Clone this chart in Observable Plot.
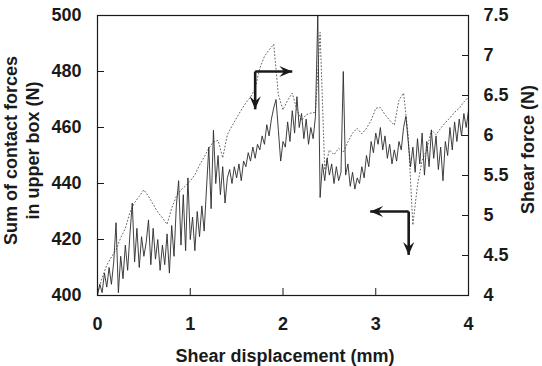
<!DOCTYPE html>
<html><head><meta charset="utf-8">
<script src="https://cdn.jsdelivr.net/npm/d3@7"></script>
<script src="https://cdn.jsdelivr.net/npm/@observablehq/plot@0.6"></script>
<style>body{margin:0;background:#fff}</style>
</head><body><div id="chart"></div>
<script>
// Sum of contact forces in upper box (N), sampled every 0.025 mm (left axis)
const contactStep = 0.025;
const contactForce = [
  400,404,401,408,403,410,404,412,426,401,
  414,406,418,409,422,433,412,424,410,421,
  414,419,427,411,424,413,420,409,418,411,
  422,408,425,414,432,441,418,436,416,442,
  420,428,416,430,421,432,423,438,453,431,
  459,440,450,436,446,433,442,445,440,446,
  442,447,441,448,446,451,448,453,449,454,
  452,457,454,461,457,463,467,470,459,448,
  455,453,462,455,466,458,471,460,465,456,
  463,454,460,456,464,500,435,447,441,449,
  443,447,440,446,441,444,480,443,447,439,
  444,438,442,440,446,442,450,446,455,451,
  458,454,460,452,457,449,454,447,452,448,
  455,452,460,464,455,446,453,444,456,447,
  458,443,455,446,459,449,457,445,453,441,
  455,450,460,452,462,455,463,457,465,460,466
];
// Shear force (N), sampled every 0.05 mm (right axis)
const shearStep = 0.05;
const shearForce = [
  4.03,4.22,4.38,4.48,4.57,4.72,4.84,5.04,5.16,5.24,
  5.32,5.24,5.14,5.04,4.97,4.89,5.09,5.24,5.32,5.37,
  5.43,5.51,5.63,5.73,5.84,5.92,5.94,5.72,6.01,6.12,
  6.22,6.32,6.41,6.48,6.59,6.84,6.99,7.07,7.14,6.51,
  6.32,6.44,6.53,6.32,6.19,6.26,6.28,6.29,7.29,5.57,
  5.82,5.76,5.84,5.79,5.92,6.03,6.09,6.02,6.09,6.19,
  6.34,6.35,6.26,6.19,6.13,6.44,6.53,6.00,4.88,5.38,
  5.69,5.82,6.07,6.01,6.09,6.16,6.22,6.29,6.34,6.42,6.48
];
const xTicks = [0, 1, 2, 3, 4];
const leftTicks = [400, 420, 440, 460, 480, 500];
const rightTicks = [4, 4.5, 5, 5.5, 6, 6.5, 7, 7.5];
const leftDomain = [400, 500];
const rightDomain = [4, 7.5];
const xTitle = "Shear displacement (mm)";
const leftTitle = "Sum of contact forces\nin upper box (N)";
const rightTitle = "Shear force (N)";
// annotation arrows: corner point, and two tips (x in mm, y in left-axis units)
const arrowShafts = [
  {x1: 1.70, y1: 480, x2: 1.70, y2: 466.5},
  {x1: 1.70, y1: 480, x2: 2.10, y2: 480},
  {x1: 3.355, y1: 430, x2: 2.94, y2: 430},
  {x1: 3.355, y1: 430, x2: 3.355, y2: 414.5}
];
const arrowHeads = [
  {x: 1.70, y: 466.5, dir: 180},
  {x: 2.10, y: 480, dir: 90},
  {x: 2.94, y: 430, dir: 270},
  {x: 3.355, y: 414.5, dir: 180}
];

const toLeft = s => leftDomain[0] + (s - rightDomain[0]) * (leftDomain[1] - leftDomain[0]) / (rightDomain[1] - rightDomain[0]);
const fromLeft = v => rightDomain[0] + (v - leftDomain[0]) * (rightDomain[1] - rightDomain[0]) / (leftDomain[1] - leftDomain[0]);

const stealth = {
  draw(ctx, size) {
    const r = Math.sqrt(size / Math.PI);
    ctx.moveTo(0, 0);
    ctx.lineTo(0.8 * r, 1.85 * r);
    ctx.lineTo(0, 1.15 * r);
    ctx.lineTo(-0.8 * r, 1.85 * r);
    ctx.closePath();
  }
};

const ink = "#1a1a1a";
const chart = Plot.plot({
  width: 542,
  height: 366,
  marginLeft: 97,
  marginRight: 74,
  marginTop: 15,
  marginBottom: 71,
  style: {fontFamily: "'Liberation Sans', Arial, sans-serif", fontSize: "18px", fontWeight: "bold", color: ink, background: "#fff"},
  x: {domain: [0, 4]},
  y: {domain: leftDomain},
  marks: [
    Plot.line(shearForce, {x: (d, i) => i * shearStep, y: d => toLeft(d), stroke: "#666", strokeWidth: 1, strokeDasharray: "1,2.4", clip: true}),
    Plot.line(contactForce, {x: (d, i) => i * contactStep, y: d => d, stroke: "#2a2a2a", strokeWidth: 0.9, clip: true}),
    Plot.frame({stroke: ink, strokeWidth: 1.2}),
    Plot.axisX({ticks: xTicks, tickSize: -7, tickPadding: 29, tickFormat: d => String(d), label: null, stroke: ink}),
    Plot.axisY({anchor: "left", ticks: leftTicks, tickSize: -7, tickPadding: 23, tickFormat: d => String(d), label: null, stroke: ink}),
    Plot.axisY({anchor: "right", ticks: rightTicks.map(toLeft), tickSize: -7, tickPadding: 22, tickFormat: d => String(Math.round(fromLeft(d) * 10) / 10), label: null, stroke: ink}),
    Plot.text([xTitle], {frameAnchor: "bottom", dx: 2, dy: 66, lineAnchor: "bottom", textAnchor: "middle", fill: ink}),
    Plot.text([leftTitle], {frameAnchor: "left", dx: -77, dy: -5, rotate: -90, lineHeight: 1.22, lineAnchor: "middle", textAnchor: "middle", fill: ink}),
    Plot.text([rightTitle], {frameAnchor: "right", dx: 60, dy: -6, rotate: -90, lineAnchor: "middle", textAnchor: "middle", fill: ink}),
    Plot.link(arrowShafts, {x1: "x1", y1: "y1", x2: "x2", y2: "y2", stroke: ink, strokeWidth: 2.6}),
    Plot.dot(arrowHeads, {x: "x", y: "y", rotate: "dir", symbol: stealth, r: 7, fill: ink, stroke: "none"})
  ]
});
document.getElementById("chart").appendChild(chart);
</script>
</body></html>
